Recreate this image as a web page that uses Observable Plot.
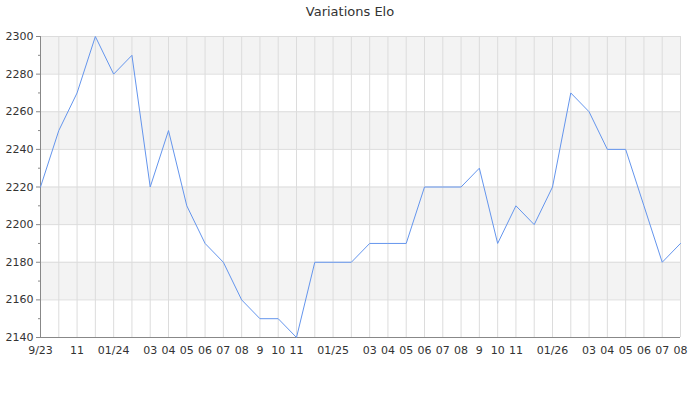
<!DOCTYPE html>
<html>
<head>
<meta charset="utf-8">
<script src="https://cdn.jsdelivr.net/npm/d3@7"></script>
<script src="https://cdn.jsdelivr.net/npm/@observablehq/plot@0.6"></script>
<style>
  body { margin: 0; background: #fff; font-family: "DejaVu Sans", sans-serif; }
  #title { height: 24px; line-height: 24px; text-align: center; font-size: 13px; color: #333; }
</style>
</head>
<body>
<div id="title">Variations Elo</div>
<div id="chart"></div>
<script>
// one point per month, 9/23 -> 08/26
const elo = [2220, 2250, 2270, 2300, 2280, 2290, 2220, 2250, 2210, 2190, 2180, 2160,
             2150, 2150, 2140, 2180, 2180, 2180, 2190, 2190, 2190, 2220, 2220, 2220,
             2230, 2190, 2210, 2200, 2220, 2270, 2260, 2240, 2240, 2210, 2180, 2190];

const monthLabels = ["9/23", "", "11", "", "01/24", "", "03", "04", "05", "06", "07", "08",
                     "9", "10", "11", "", "01/25", "", "03", "04", "05", "06", "07", "08",
                     "9", "10", "11", "", "01/26", "", "03", "04", "05", "06", "07", "08"];

const yTicks = [2140, 2160, 2180, 2200, 2220, 2240, 2260, 2280, 2300];
const yMinor = [2150, 2170, 2190, 2210, 2230, 2250, 2270, 2290];
const bands = [2160, 2200, 2240, 2280];

const points = elo.map((v, i) => ({i: i, elo: v}));
const last = elo.length - 1;

const chart = Plot.plot({
    width: 700,
    height: 376,
    marginLeft: 40,
    marginRight: 20,
    marginTop: 12,
    marginBottom: 63,
    x: {type: "linear", domain: [0, last], label: null},
    y: {domain: [2140, 2300], label: null},
    style: {
        fontFamily: "DejaVu Sans, sans-serif",
        fontSize: "11px",
        color: "#333"
    },
    marks: [
        Plot.rect(bands, {x1: 0, x2: last, y1: d => d, y2: d => d + 20, fill: "#f3f3f3"}),
        Plot.gridX(d3.range(elo.length), {stroke: "#dcdcdc", strokeOpacity: 1}),
        Plot.gridY(yTicks, {stroke: "#dcdcdc", strokeOpacity: 1}),
        Plot.axisY(yTicks, {tickSize: 4, tickPadding: 3, tickFormat: d => String(d), stroke: "#888", fill: "#333", label: null}),
        Plot.axisY(yMinor, {tickSize: 2, text: null, stroke: "#888", label: null}),
        Plot.axisX(d3.range(elo.length), {tickSize: 0, tickPadding: 9, tickFormat: i => monthLabels[i], fill: "#333", label: null}),
        Plot.ruleX([0], {stroke: "#888"}),
        Plot.ruleY([2140], {stroke: "#888"}),
        Plot.line(points, {x: "i", y: "elo", stroke: "#6495ed", strokeWidth: 1})
    ]
});

d3.select("#chart").append(() => chart);
</script>
</body>
</html>
